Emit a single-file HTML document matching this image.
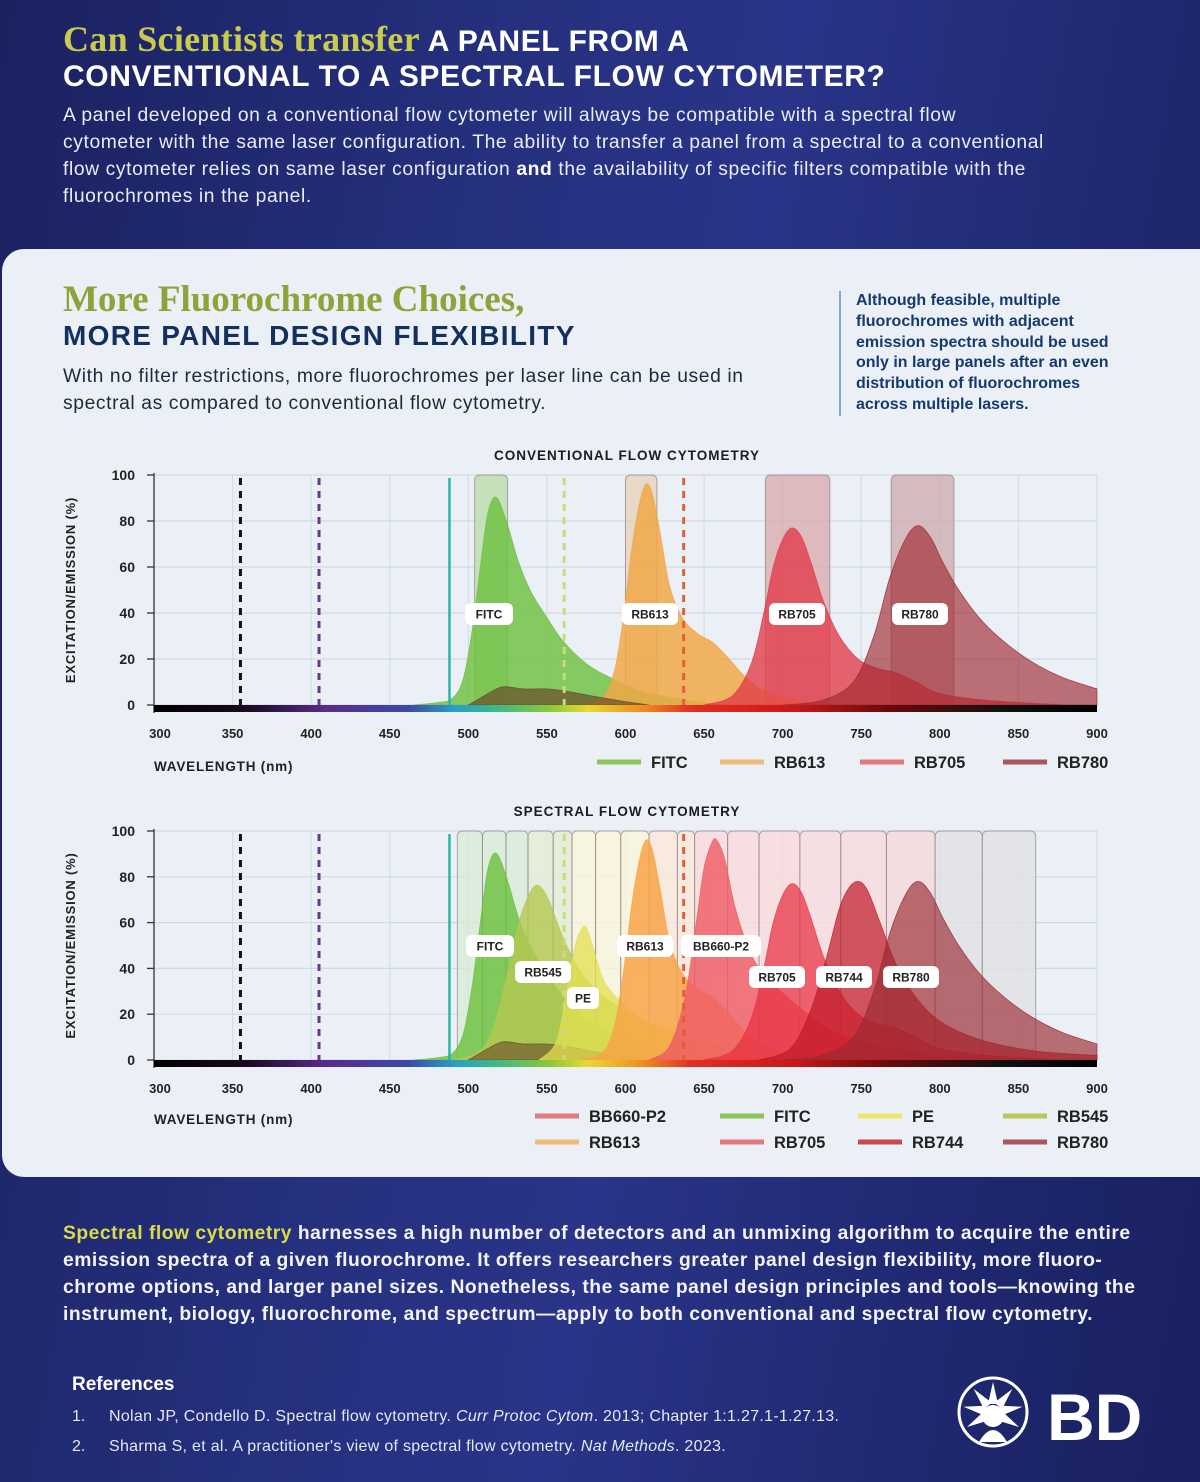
<!DOCTYPE html>
<html><head><meta charset="utf-8">
<style>
*{margin:0;padding:0;box-sizing:border-box}
body{width:1200px;height:1482px;overflow:hidden;font-family:"Liberation Sans",sans-serif;background:#1d2566;position:relative}
#bg{position:absolute;left:0;top:0;width:1200px;height:1482px;background:linear-gradient(100deg,#1b2260 0%,#25307e 35%,#2a3488 55%,#1f2870 80%,#1a2160 100%)}
.abs{position:absolute}
.w{color:#fff}
.nw{white-space:nowrap}
#panel{position:absolute;left:2px;top:249px;width:1198px;height:928px;background:#eaf0f6;border-radius:22px 0 0 22px}
</style></head><body>
<div id="bg"></div>
<div class="abs nw" style="left:63px;top:22px;font-size:30px;line-height:35px;font-weight:bold;color:#fff;letter-spacing:0.6px">
<span style="font-family:'Liberation Serif',serif;color:#c9cb4f;font-size:36px;letter-spacing:0.3px">Can Scientists transfer</span> A PANEL FROM A<br>CONVENTIONAL TO A SPECTRAL FLOW CYTOMETER?</div>
<div class="abs w nw" style="left:63px;top:102px;font-size:19.3px;line-height:27px;color:#e8ecf6;letter-spacing:0.6px">A panel developed on a conventional flow cytometer will always be compatible with a spectral flow<br>cytometer with the same laser configuration. The ability to transfer a panel from a spectral to a conventional<br>flow cytometer relies on same laser configuration <b style="color:#fff">and</b> the availability of specific filters compatible with the<br>fluorochromes in the panel.</div>

<div id="panel"></div>
<div class="abs nw" style="left:63px;top:280px;font-weight:bold">
<div style="font-family:'Liberation Serif',serif;color:#8fa33a;font-size:37px;line-height:40px">More Fluorochrome Choices,</div>
<div style="color:#13305e;font-size:28px;line-height:32px;letter-spacing:1.3px">MORE PANEL DESIGN FLEXIBILITY</div></div>
<div class="abs nw" style="left:63px;top:363px;font-size:19.3px;line-height:27px;color:#1e2a3a;letter-spacing:0.6px">With no filter restrictions, more fluorochromes per laser line can be used in<br>spectral as compared to conventional flow cytometry.</div>
<div class="abs" style="left:839px;top:291px;width:290px;border-left:2px solid #7fa8d0;padding-left:15px;font-size:16px;line-height:20.8px;color:#163a6e;font-weight:bold">Although feasible, multiple fluorochromes with adjacent emission spectra should be used only in large panels after an even distribution of fluorochromes across multiple lasers.</div>

<svg id="charts" class="abs" style="left:0;top:0" width="1200" height="1200"></svg>

<div class="abs w nw" style="left:63px;top:1220px;font-size:19.3px;line-height:27px;font-weight:bold;color:#f2f4fa;letter-spacing:0.5px"><span style="color:#d8dc4a">Spectral flow cytometry</span> harnesses a high number of detectors and an unmixing algorithm to acquire the entire<br>emission spectra of a given fluorochrome. It offers researchers greater panel design flexibility, more fluoro-<br>chrome options, and larger panel sizes. Nonetheless, the same panel design principles and tools—knowing the<br>instrument, biology, fluorochrome, and spectrum—apply to both conventional and spectral flow cytometry.</div>
<div class="abs w" style="left:72px;top:1374px;font-size:19px;font-weight:bold">References</div>
<div class="abs" style="left:72px;top:1408px;font-size:16px;color:#e4e8f2">1.<span style="position:absolute;left:37px;white-space:nowrap;letter-spacing:0.3px">Nolan JP, Condello D. Spectral flow cytometry. <i>Curr Protoc Cytom</i>. 2013; Chapter 1:1.27.1-1.27.13.</span></div>
<div class="abs" style="left:72px;top:1438px;font-size:16px;color:#e4e8f2">2.<span style="position:absolute;left:37px;white-space:nowrap;letter-spacing:0.3px">Sharma S, et al. A practitioner's view of spectral flow cytometry. <i>Nat Methods</i>. 2023.</span></div>
<svg class="abs" style="left:955px;top:1376px" width="195" height="72">
<circle cx="38" cy="36" r="34" fill="none" stroke="#fff" stroke-width="3"/>
<g fill="#fff" transform="translate(38,36)">
<polygon points="0,-30 5,-8 -5,-8"/><polygon points="0,-30 5,-8 -5,-8" transform="rotate(40)"/><polygon points="0,-30 5,-8 -5,-8" transform="rotate(-40)"/><polygon points="0,-30 5,-8 -5,-8" transform="rotate(80)"/><polygon points="0,-30 5,-8 -5,-8" transform="rotate(-80)"/><polygon points="0,-30 5,-8 -5,-8" transform="rotate(120)"/><polygon points="0,-30 5,-8 -5,-8" transform="rotate(-120)"/>
<circle cx="0" cy="4" r="11"/><path d="M-14,30 Q0,6 14,30 Z"/></g>
<text x="92" y="64" font-family="Liberation Sans,sans-serif" font-size="66" font-weight="bold" fill="#fff">BD</text></svg>

<script>
// ---- data ----
const xTicks=[300,350,400,450,500,550,600,650,700,750,800,850,900];
const yTicks=[0,20,40,60,80,100];
const laserWl=[355,405,488,561,637];
const laserColors=['#111','#6a3a8a','#2bb5a5','#c9dc7a','#e0603a'];
const fitcWl=[465,480,490,497,503,508,512,516,520,526,532,540,550,560,575,590,610,640,660];
const fitcVal=[0,1,3,12,35,62,82,90,88,76,62,49,38,28,18,12,6,2,0];
const fitcExWl=[500,510,518,524,535,550,562,578,595,615];
const fitcExVal=[0,4,7,8,7,7,6,4,2,0];
const rb613Wl=[570,585,593,599,604,609,613,617,622,628,636,646,656,666,678,692,710,730];
const rb613Val=[0,3,15,40,68,88,96,92,75,52,38,31,27,20,11,5,2,0];
const rb705Wl=[650,668,680,688,694,700,706,712,718,726,736,748,760,772,785,800,830,880];
const rb705Val=[0,4,18,40,60,72,77,73,62,45,30,20,16,14,10,5,2,0];
const rb780Wl=[700,725,745,758,768,778,786,794,802,812,825,840,858,878,900];
const rb780Val=[0,2,10,30,55,72,78,73,62,50,38,28,19,12,7];
const rb545Wl=[490,505,515,525,533,540,545,551,560,570,582,600,620,640,670,710,765];
const rb545Val=[0,3,12,38,62,74,76,70,54,40,30,21,14,9,5,2,0];
const peWl=[545,556,563,568,572,575,579,586,596,610,625,640,660,700,765];
const peVal=[0,8,32,50,57,58,50,35,26,18,14,10,5,2,0];
const bb660Wl=[615,628,638,645,650,655,658,663,670,680,690,702,720,740,770,800,850];
const bb660Val=[0,6,28,60,84,95,96,88,66,46,36,28,18,10,5,2,0];
const rb744Wl=[685,705,718,728,736,742,748,754,762,772,784,800,825,860,900];
const rb744Val=[0,5,22,45,66,75,78,74,60,42,28,17,9,4,2];
const convBandStart=[504,600,689,769];
const convBandEnd=[525,620,730,809];
const convBandColor=['#b8dca8','#e6d0b8','#d8a8aa','#ccaaac'];
const specBandEdges=[493,509,524,538,554,566,581,597,615,633,644,665,685,711,737,766,797,827,861];
const specBandColor=['#d8ecd4','#d8ecd4','#d8ecd4','#e2eed0','#e2eed0','#fbf6d8','#fbf6d8','#fbf6d8','#fde8d8','#fde8d8','#fbdada','#fbdada','#fbdada','#fadadc','#fadadc','#f4d8da','#e0e0e2','#e0e0e2'];

const NS='http://www.w3.org/2000/svg';
const svg=document.getElementById('charts');
function mk(tag,attrs,parent){const e=document.createElementNS(NS,tag);for(const k in attrs)e.setAttribute(k,attrs[k]);(parent||svg).appendChild(e);return e;}
const X0=154,X1=1097;
function xs(w){return X0+(w-300)*(X1-X0)/600;}
function smoothPath(pts){let d='M'+pts[0][0]+','+pts[0][1];for(let i=0;i<pts.length-1;i++){const p0=pts[i-1]||pts[i],p1=pts[i],p2=pts[i+1],p3=pts[i+2]||p2;const c1x=p1[0]+(p2[0]-p0[0])/6,c1y=p1[1]+(p2[1]-p0[1])/6,c2x=p2[0]-(p3[0]-p1[0])/6,c2y=p2[1]-(p3[1]-p1[1])/6;d+=` C${c1x},${c1y} ${c2x},${c2y} ${p2[0]},${p2[1]}`;}return d;}

function chart(opt){
  const Y0=opt.y0,Y100=opt.y100;
  const ys=v=>Y0-(v/100)*(Y0-Y100);
  const t=mk('text',{x:627,y:opt.titleY,'text-anchor':'middle','font-size':13.5,'font-weight':'bold',fill:'#1a1a2a','letter-spacing':'1'});t.textContent=opt.title;
  
  
  yTicks.forEach(v=>{const l=mk('line',{x1:X0,x2:X1,y1:ys(v),y2:ys(v),stroke:'#d4dae2','stroke-width':1.2});
    
    
    const k=mk('line',{x1:X0-7,x2:X0,y1:ys(v),y2:ys(v),stroke:'#333','stroke-width':1.3});
    
    
    const tl=mk('text',{x:135,y:ys(v)+5,'text-anchor':'end','font-size':14,'font-weight':'bold',fill:'#222'});tl.textContent=v;
    
    });
  xTicks.forEach(w=>{const l=mk('line',{x1:xs(w),x2:xs(w),y1:Y100,y2:Y0,stroke:'#d4dae2','stroke-width':1});
    
    
    const tl=mk('text',{x:w===300?xs(w)+6:xs(w),y:Y0+33,'text-anchor':'middle','font-size':13,'font-weight':'bold',fill:'#222'});tl.textContent=w;
    
    });
  mk('line',{x1:X0,x2:X0,y1:Y100-2,y2:Y0+8,stroke:'#333','stroke-width':1.3});
  opt.bands.forEach(b=>{const r=mk('rect',{x:xs(b[0]),y:Y100,width:xs(b[1])-xs(b[0]),height:Y0-Y100,rx:5,fill:b[2],'fill-opacity':0.75,stroke:'#7a6a6a','stroke-opacity':0.55,'stroke-width':1});
    
    });
  opt.series.forEach(s=>{const pts=s.wl.map((w,i)=>[xs(w),ys(s.val[i])]);
    const d=smoothPath(pts)+` L${xs(s.wl[s.wl.length-1])},${Y0} L${xs(s.wl[0])},${Y0} Z`;
    const p=mk('path',{d:d,fill:s.color,'fill-opacity':s.op||0.8,stroke:s.stroke||s.color,'stroke-width':0.8,'stroke-opacity':0.8});
    
    });
  laserWl.forEach((w,i)=>{const l=mk('line',{x1:xs(w),x2:xs(w),y1:Y100+3,y2:Y0,stroke:laserColors[i],'stroke-width':i===2?2.5:3,'stroke-dasharray':i===2?'':'7,6'});
    
    });
  const g=mk('rect',{x:X0,y:Y0,width:X1-X0,height:7,fill:'url(#rainbow)'});
  
  
  opt.labels.forEach(lb=>{const w=lb[0].length*8+16;const r=mk('rect',{x:lb[1]-w/2,y:lb[2]-11,width:w,height:22,rx:6,fill:'#fff'});
    
    
    const tx=mk('text',{x:lb[1],y:lb[2]+4.5,'text-anchor':'middle','font-size':12,'font-weight':'bold',fill:'#222'});tx.textContent=lb[0];
    
    });
  const ya=mk('text',{x:0,y:0,transform:`translate(75,${(Y0+Y100)/2}) rotate(-90)`,'text-anchor':'middle','font-size':13,'font-weight':'bold',fill:'#222','letter-spacing':'0.8'});ya.textContent='EXCITATION/EMISSION (%)';
  
  
  const xa=mk('text',{x:154,y:opt.xTitleY,'font-size':13.5,'font-weight':'bold',fill:'#222','letter-spacing':'0.8'});xa.textContent='WAVELENGTH (nm)';
  
  
  opt.legend.forEach(e=>{const l=mk('line',{x1:e[1],x2:e[1]+44,y1:e[2],y2:e[2],stroke:e[3],'stroke-width':5});
    
    
    const tx=mk('text',{x:e[1]+54,y:e[2]+6,'font-size':16.5,'font-weight':'bold',fill:'#222'});tx.textContent=e[0];
    
    });
}
const defs=mk('defs',{});
const lg=mk('linearGradient',{id:'rainbow',x1:0,x2:1,y1:0,y2:0},defs);
[[0,'#000'],[0.1,'#1a0a20'],[0.18,'#5a2a8a'],[0.27,'#3a4aa8'],[0.32,'#2aa0c8'],[0.36,'#3ab88a'],[0.42,'#8ac83a'],[0.46,'#e8d830'],[0.52,'#f08a20'],[0.57,'#e03020'],[0.68,'#c81818'],[0.78,'#6a0a0a'],[0.9,'#111'],[1,'#000']].forEach(s=>mk('stop',{offset:s[0],'stop-color':s[1]},lg));

chart({title:'CONVENTIONAL FLOW CYTOMETRY',titleY:460,y0:705,y100:475,xTitleY:771,
 bands:convBandStart.map((s,i)=>[s,convBandEnd[i],convBandColor[i]]),
 series:[
  {name:'fitc',wl:fitcWl,val:fitcVal,color:'#6cbf3c'},
  {name:'rb613',wl:rb613Wl,val:rb613Val,color:'#f0a848',op:0.85},
  {name:'fitc-excitation',wl:fitcExWl,val:fitcExVal,color:'#6a4a2a',op:0.7},
  {name:'rb705',wl:rb705Wl,val:rb705Val,color:'#e23a48',op:0.78},
  {name:'rb780',wl:rb780Wl,val:rb780Val,color:'#a02830',op:0.65}],
 labels:[['FITC',489,614],['RB613',650,614],['RB705',797,614],['RB780',920,614]],
 legend:[['FITC',597,762,'#8cc65a'],['RB613',720,762,'#eebb7a'],['RB705',860,762,'#e07a7e'],['RB780',1003,762,'#a8585c']]});

chart({title:'SPECTRAL FLOW CYTOMETRY',titleY:816,y0:1060,y100:831,xTitleY:1124,
 bands:specBandColor.map((c,i)=>[specBandEdges[i],specBandEdges[i+1],c]),
 series:[
  {name:'fitc',wl:fitcWl,val:fitcVal,color:'#6cbf3c'},
  {name:'rb545',wl:rb545Wl,val:rb545Val,color:'#b4c850',op:0.8},
  {name:'fitc-excitation',wl:fitcExWl,val:fitcExVal,color:'#6a4a2a',op:0.6},
  {name:'pe',wl:peWl,val:peVal,color:'#e4e050',op:0.75},
  {name:'rb613',wl:rb613Wl,val:rb613Val,color:'#f7a548',op:0.85},
  {name:'bb660-p2',wl:bb660Wl,val:bb660Val,color:'#ee5a64',op:0.8},
  {name:'rb705',wl:rb705Wl,val:rb705Val,color:'#e83040',op:0.72},
  {name:'rb744',wl:rb744Wl,val:rb744Val,color:'#c01828',op:0.7},
  {name:'rb780',wl:rb780Wl,val:rb780Val,color:'#9a2830',op:0.65}],
 labels:[['FITC',490,946],['RB545',543,972],['PE',583,998],['RB613',645,946],['BB660-P2',721,946],['RB705',777,977],['RB744',844,977],['RB780',911,977]],
 legend:[['BB660-P2',535,1116,'#e07a7e'],['FITC',720,1116,'#8cc65a'],['PE',858,1116,'#ece66a'],['RB545',1003,1116,'#bcc85a'],
         ['RB613',535,1142,'#eebb7a'],['RB705',720,1142,'#e07a7e'],['RB744',858,1142,'#c8484e'],['RB780',1003,1142,'#a8585c']]});
</script>
</body></html>
